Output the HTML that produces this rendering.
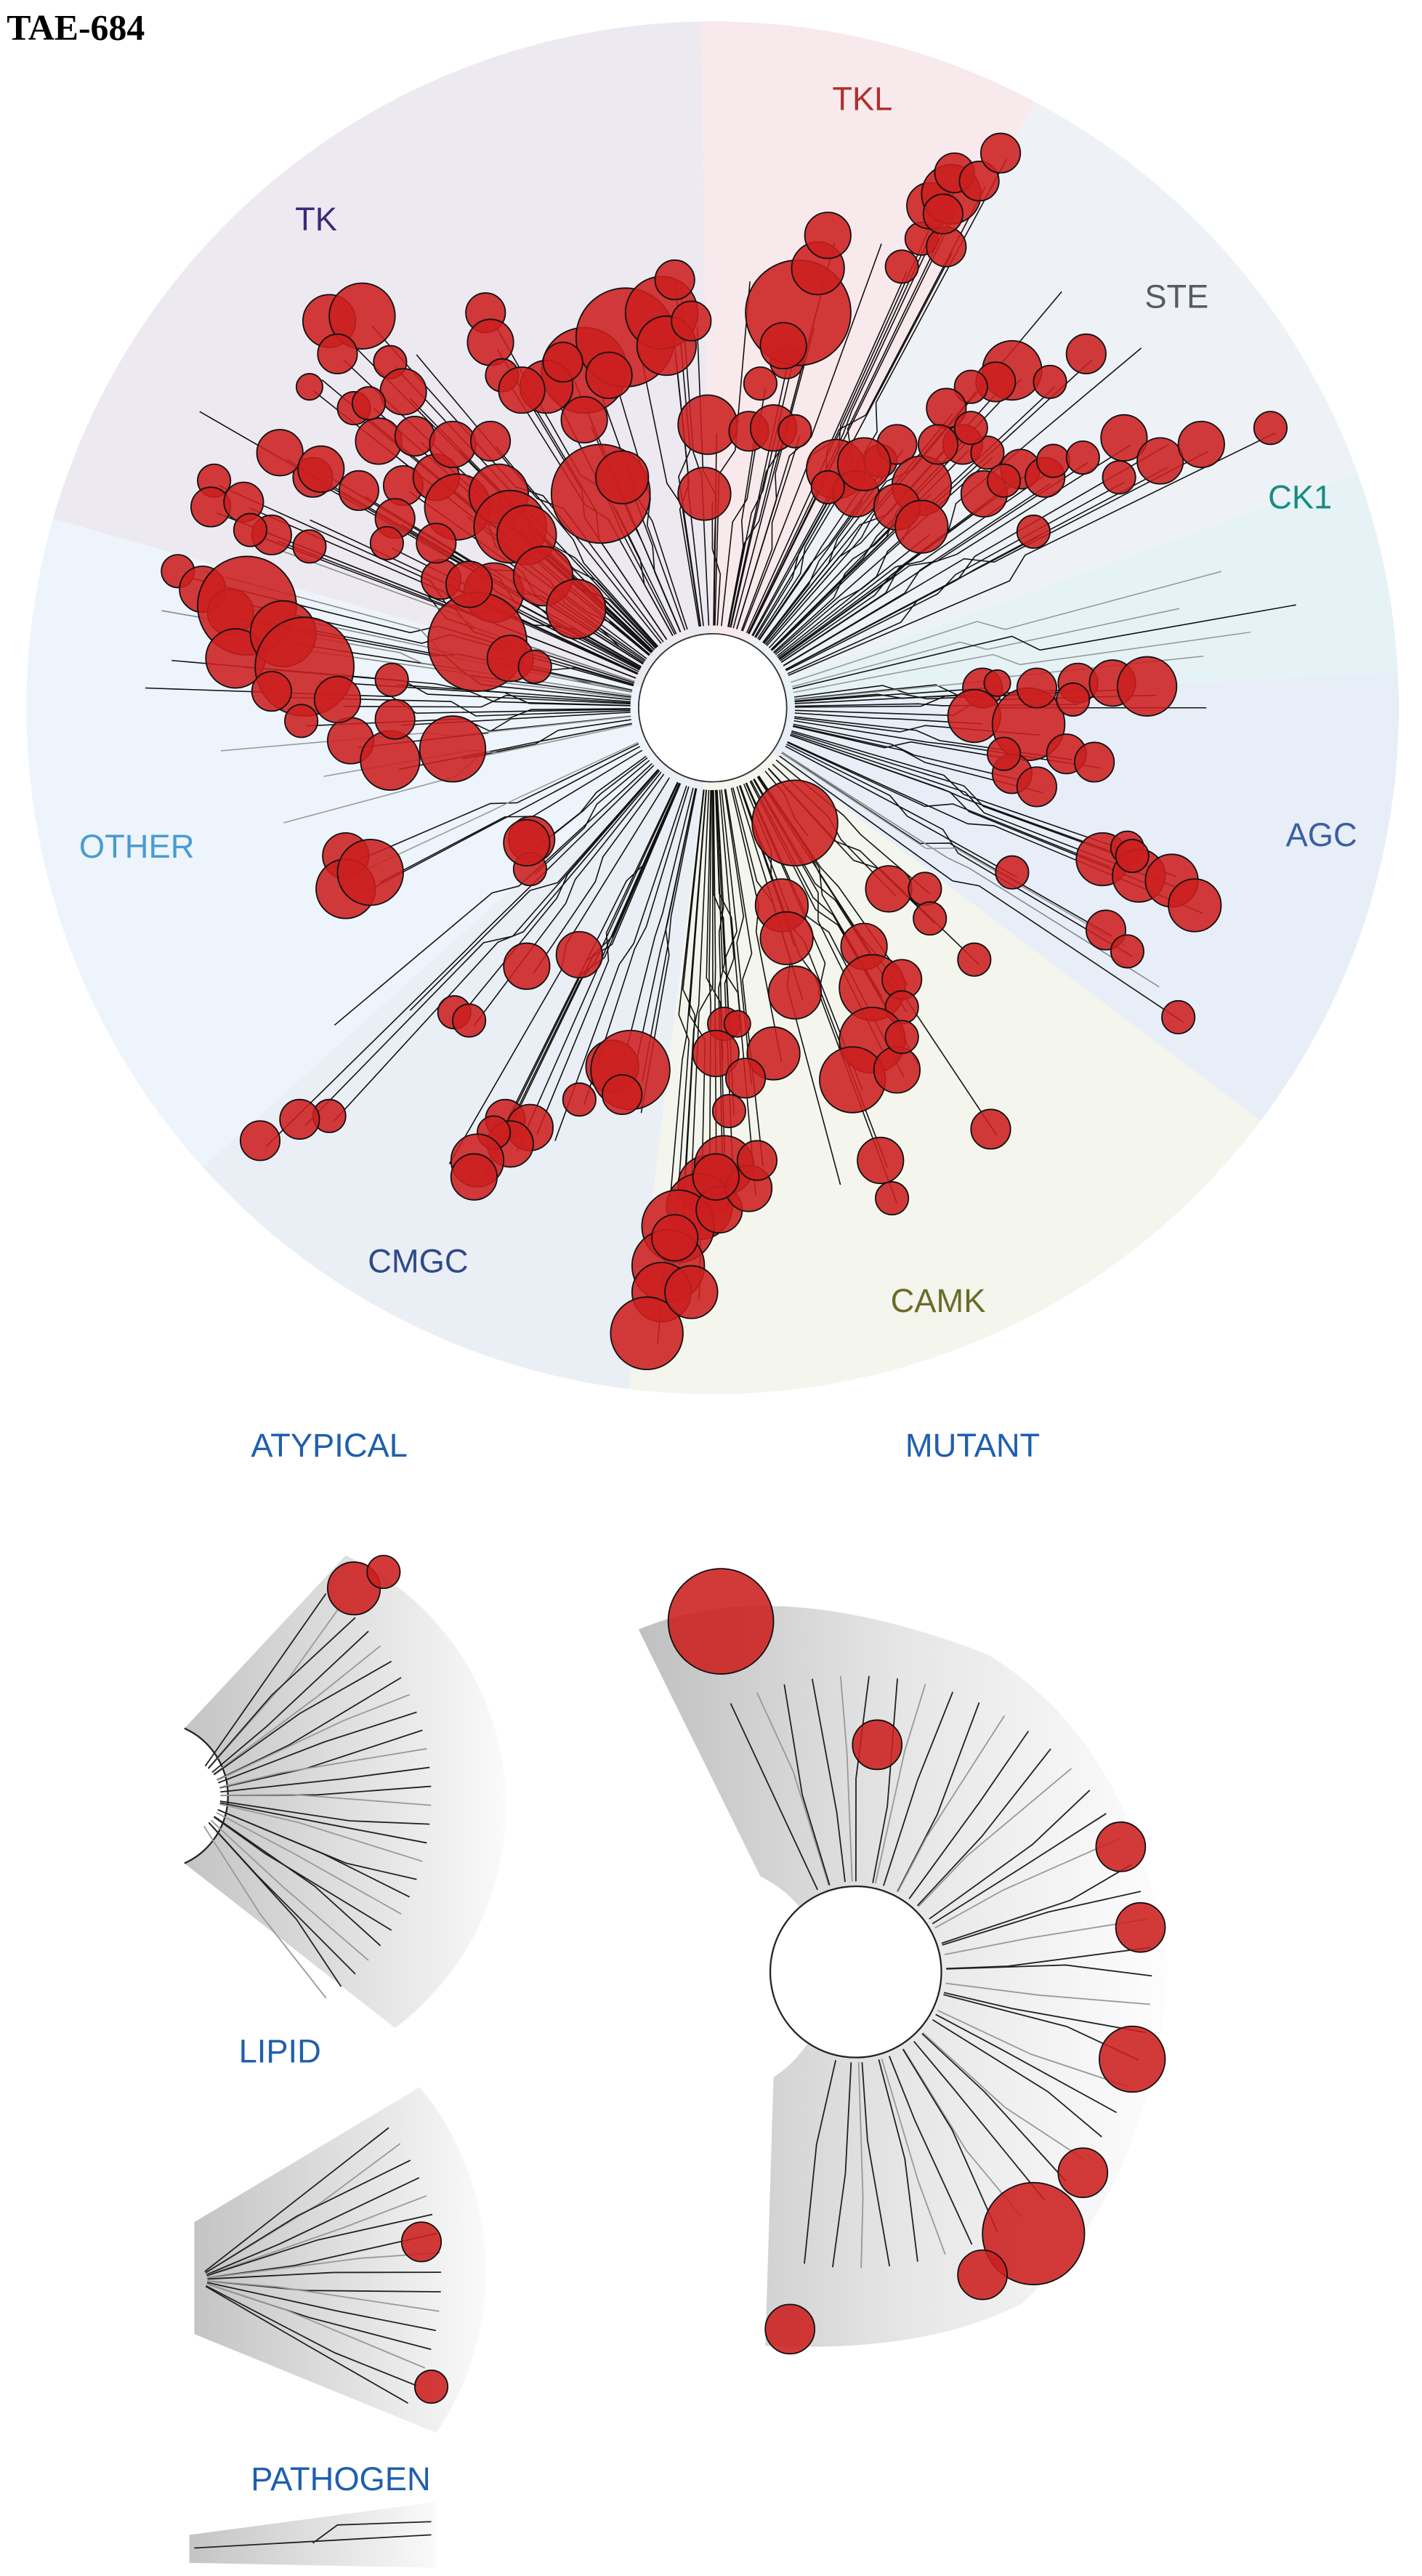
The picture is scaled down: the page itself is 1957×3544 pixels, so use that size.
<!DOCTYPE html>
<html><head><meta charset="utf-8"><style>
html,body{margin:0;padding:0;background:#fff;}
svg{display:block;}
text{font-family:"Liberation Sans",sans-serif;}
</style></head><body>
<svg id="s" width="1957" height="3544" viewBox="0 0 864 1565" xmlns="http://www.w3.org/2000/svg">
<defs>
<linearGradient id="g1" x1="0" y1="0" x2="1" y2="0"><stop offset="0" stop-color="#c4c4c4"/><stop offset="1" stop-color="#fafafa"/></linearGradient>
<linearGradient id="g2" x1="0" y1="0" x2="1" y2="0"><stop offset="0" stop-color="#c0c0c0"/><stop offset="0.5" stop-color="#e6e6e6"/><stop offset="1" stop-color="#fdfdfd"/></linearGradient>
</defs>
<g id="sectors"></g>
<g id="lines" stroke="#111" stroke-width="0.7" fill="none"></g>
<circle cx="433" cy="430" r="45" fill="#fff" stroke="#333" stroke-width="0.8"/>
<g font-size="20">
<text x="192" y="140" text-anchor="middle" fill="#3b2a7a">TK</text>
<text x="524" y="67" text-anchor="middle" fill="#b0302f">TKL</text>
<text x="715" y="187" text-anchor="middle" fill="#555c66">STE</text>
<text x="790" y="309" text-anchor="middle" fill="#1a8a80">CK1</text>
<text x="803" y="514" text-anchor="middle" fill="#3c5fa0">AGC</text>
<text x="83" y="521" text-anchor="middle" fill="#4a9bd0">OTHER</text>
<text x="254" y="773" text-anchor="middle" fill="#2d4a8a">CMGC</text>
<text x="570" y="797" text-anchor="middle" fill="#6b6b2a">CAMK</text>
<text x="200" y="885" text-anchor="middle" fill="#1f5fae">ATYPICAL</text>
<text x="591" y="885" text-anchor="middle" fill="#1f5fae">MUTANT</text>
<text x="170" y="1253" text-anchor="middle" fill="#1f5fae">LIPID</text>
<text x="207" y="1513" text-anchor="middle" fill="#1f5fae">PATHOGEN</text>
</g>
<text x="4" y="24" font-size="22" font-weight="bold" style="font-family:'Liberation Serif',serif">TAE-684</text>
<!-- fans -->
<path d="M210,945 A168,168 0 0 1 240,1232 L112,1132 A45,45 0 0 0 112,1050 Z" fill="url(#g1)"/>
<path d="M112,1132 A45,45 0 0 0 112,1050" stroke="#222" fill="none"/>
<path d="M255,1268 A175,175 0 0 1 265,1478 L118,1418 L118,1350 Z" fill="url(#g1)"/>
<path d="M115,1540 L265,1520 L265,1560 L115,1557 Z" fill="url(#g1)"/>
<path d="M388,990 Q470,955 600,1005 Q690,1060 710,1195 Q700,1330 620,1400 Q560,1430 465,1425 L470,1262 A70,70 0 0 0 462,1140 Z" fill="url(#g2)"/>
<circle cx="520" cy="1198" r="52" fill="#fff" stroke="#222" stroke-width="1"/>
<g id="fanlines" stroke="#222" stroke-width="0.8" fill="none"></g>
<g id="circ" fill="#cc1f1f" fill-opacity="0.88" stroke="#111" stroke-width="0.8"></g>
</svg>
<script>
var NS="http://www.w3.org/2000/svg";
function el(p,t,a){var e=document.createElementNS(NS,t);for(var k in a)e.setAttribute(k,a[k]);p.appendChild(e);return e;}
var cx=433,cy=430,R=417,D=Math.PI/180;
var sec=[[-91,-62,"#f8e9ec"],[-62,-20,"#eef2f6"],[-20,-3,"#e5f3f7"],[-3,37,"#e8eef8"],[37,97,"#f4f5ec"],[97,138,"#eaeff5"],[138,196,"#edf4fb"],[196,269,"#ede9f1"]];
var sg=document.getElementById("sectors");
sec.forEach(function(s){var a=s[0]*D,b=s[1]*D;
el(sg,"path",{d:"M"+cx+","+cy+" L"+(cx+R*Math.cos(a))+","+(cy+R*Math.sin(a))+" A"+R+","+R+" 0 0 1 "+(cx+R*Math.cos(b))+","+(cy+R*Math.sin(b))+" Z",fill:s[2]});});
var C=[[200,195,16],[220,192,20],[205,215,12],[237,220,10],[215,248,10],[245,238,14],[230,268,14],[252,265,12],[218,298,12],[245,295,12],[265,290,14],[275,270,14],[298,268,12],[295,190,12],[298,208,14],[305,228,10],[278,308,20],[303,300,18],[310,320,22],[300,360,18],[290,390,30],[320,325,18],[330,350,18],[350,370,18],[310,400,14],[325,405,10],[268,352,12],[285,355,14],[265,330,12],[240,315,12],[235,330,10],[190,290,12],[170,275,14],[195,285,14],[130,292,10],[128,308,12],[148,305,12],[165,325,12],[188,332,10],[152,322,10],[108,347,10],[123,358,14],[140,372,14],[150,368,30],[143,400,18],[172,385,20],[185,405,30],[165,420,12],[183,438,10],[213,450,14],[237,462,18],[240,437,12],[238,413,10],[205,425,14],[275,455,20],[188,235,8],[224,245,10],[355,225,26],[380,205,30],[402,190,22],[405,210,18],[410,170,12],[420,195,12],[332,235,16],[342,220,12],[317,237,14],[370,228,14],[355,255,14],[365,300,30],[378,290,16],[428,300,16],[430,258,18],[455,262,12],[462,233,10],[470,260,14],[483,262,10],[478,220,10],
[485,190,32],[476,210,14],[497,163,16],[503,143,14],[560,145,10],[575,150,12],[565,125,14],[578,118,18],[580,105,12],[595,110,12],[608,93,12],[573,130,12],[548,162,10],
[508,285,18],[520,300,14],[503,296,10],[535,280,10],[545,270,12],[560,295,18],[545,308,14],[560,320,16],[525,282,16],[598,300,14],[615,225,18],[605,232,12],[590,235,10],[575,248,12],[585,270,12],[600,275,10],[620,285,12],[610,292,10],[635,290,12],[640,280,10],[658,278,10],[638,232,10],[660,215,12],[683,266,14],[680,290,10],[705,280,14],[730,270,14],[772,260,10],[628,323,10],[590,260,10],[570,270,12],
[597,418,12],[606,415,8],[592,435,16],[625,440,22],[630,418,12],[655,415,12],[676,415,14],[697,417,18],[652,425,10],[648,458,12],[665,463,12],[615,470,12],[630,478,12],[610,458,10],[670,522,16],[685,515,10],[692,532,16],[712,535,16],[726,550,16],[688,520,10],[672,565,12],[685,578,10],[615,530,10],[716,618,10],
[483,500,26],[475,550,16],[478,570,16],[483,603,16],[540,540,14],[562,540,10],[565,558,10],[592,583,10],[525,575,14],[530,600,20],[548,595,12],[548,612,10],[530,632,20],[518,656,20],[545,650,14],[548,630,10],[602,686,12],[535,705,14],[542,728,10],[440,622,10],[435,640,14],[470,640,16],[453,655,12],[448,622,8],[443,675,10],
[323,510,14],[322,528,10],[320,587,14],[352,580,14],[276,615,10],[285,620,10],[372,648,16],[383,650,24],[378,665,12],[352,668,10],[307,680,12],[322,685,14],[310,695,14],[300,688,10],[290,705,16],[288,715,14],[200,678,10],[182,680,12],[158,693,12],[430,720,18],[440,708,18],[425,733,20],[412,745,22],[406,769,22],[402,785,18],[393,810,22],[420,785,16],[437,735,14],[455,722,14],[460,705,12],[435,715,14],[410,752,14],
[210,520,14],[210,540,18],[225,530,20],[320,512,14]];
var lg=document.getElementById("lines"),cg=document.getElementById("circ");
function branch(tx,ty,col,sw){var dx=tx-cx,dy=ty-cy,r=Math.sqrt(dx*dx+dy*dy),a=Math.atan2(dy,dx);
var a0=a+0.06*Math.sin(tx*0.7),r1=50,r2=r*0.45+25;
var p="M"+(cx+r1*Math.cos(a0))+","+(cy+r1*Math.sin(a0))+" L"+(cx+r2*Math.cos(a0))+","+(cy+r2*Math.sin(a0))+" L"+(cx+(r2+15)*Math.cos(a))+","+(cy+(r2+15)*Math.sin(a))+" L"+tx+","+ty;
el(lg,"path",{d:p,stroke:col||"#111","stroke-width":sw||0.7});}
C.forEach(function(c){branch(c[0]+c[2]*0.3,c[1]+c[2]*0.3);});
var ex=[[-175,330,"#111"],[-170,340,"#888"],[-168,300,"#888"],[-165,320,"#888"],[-160,280,"#888"],[-172,260,"#888"],[-178,345,"#111"],[-150,360,"#111"],[-12,290,"#999"],[-10,360,"#111"],[-8,330,"#999"],[-15,320,"#999"],[-6,300,"#999"],[0,300,"#111"],[32,320,"#888"],[30,290,"#999"],[140,300,"#111"],[135,260,"#111"],[120,320,"#111"],[110,280,"#111"],[100,250,"#111"],[-140,310,"#111"],[-130,280,"#111"],[-95,260,"#111"],[-85,260,"#111"],[-70,300,"#111"],[-50,330,"#111"],[-40,340,"#111"],[-30,320,"#111"],[60,250,"#111"],[75,300,"#111"],[20,300,"#111"],[155,240,"#999"],[165,270,"#999"],[170,240,"#999"],[175,300,"#999"],[-155,270,"#111"]];
ex.forEach(function(e){var a=e[0]*D;branch(cx+e[1]*Math.cos(a),cy+e[1]*Math.sin(a),e[2],0.7);});
C.forEach(function(c){el(cg,"circle",{cx:c[0],cy:c[1],r:c[2]});});
var fg=document.getElementById("fanlines");
function fan(ox,oy,r0,r1,a0,a1,n){for(var i=0;i<n;i++){var a=(a0+(a1-a0)*i/(n-1))*D,b=a+0.05*Math.sin(i*2.3),rm=r0+(r1-r0)*(0.3+0.4*((i*37)%10)/10);
el(fg,"path",{d:"M"+(ox+r0*Math.cos(b))+","+(oy+r0*Math.sin(b))+" L"+(ox+rm*Math.cos(b))+","+(oy+rm*Math.sin(b))+" L"+(ox+r1*Math.cos(a))+","+(oy+r1*Math.sin(a)),stroke:i%3==1?"#999":"#222"});}}
fan(112,1091,22,150,-55,55,26);
fan(118,1385,8,150,-38,30,16);
fan(520,1198,55,180,-115,100,40);
el(fg,"path",{d:"M118,1548 L262,1540 M190,1545 L205,1534 L262,1532"});
[[215,965,16],[233,955,10],[256,1362,12],[262,1450,10],[438,985,32],[533,1060,15],[681,1122,15],[693,1171,15],[688,1251,20],[658,1320,15],[628,1357,31],[597,1382,15],[480,1415,15]].forEach(function(c){el(cg,"circle",{cx:c[0],cy:c[1],r:c[2]});});
</script>
</body></html>
